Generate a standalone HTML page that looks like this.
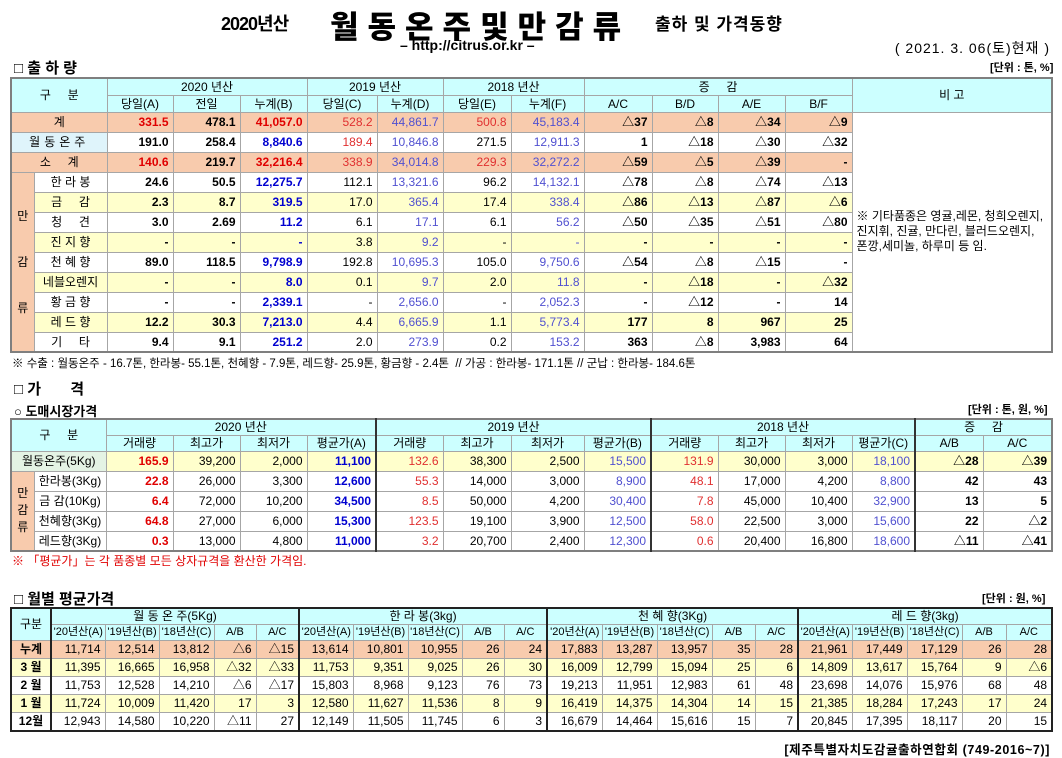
<!DOCTYPE html>
<html><head><meta charset="utf-8"><style>
body{margin:0;width:1062px;height:758px;background:#fff;position:relative;overflow:hidden;font-family:"Liberation Sans","Noto Sans CJK KR",sans-serif;color:#000}
.a{position:absolute;white-space:nowrap}
table{position:absolute;border-collapse:collapse;table-layout:fixed;font-size:12px;border:2px solid #7f7f7f}
td{border:1px solid #a6a6a6;padding:0 4px;white-space:nowrap;overflow:hidden;text-align:right;line-height:14px}
.h td,td.h{background:#ccffff;text-align:center;font-weight:normal}
.s td{background:#f8cbad}
.y td{background:#ffffcc}
.w td{background:#fff}
td.c{text-align:center}
.b{font-weight:bold}
.r{color:#e00000}
.r2{color:#e03030}
.bl{color:#0000d0}
.pu{color:#5050d0}
td.sd{background:#f8cbad !important;text-align:center;border-right:1px dashed #888}
td.lb{text-align:center;padding:0}
.gb{border-left:2px solid #333}
</style></head><body>

<div class="a" style="left:221px;top:10px;font-size:18px;font-weight:bold;letter-spacing:-1px">2020년산</div>
<div class="a" style="left:330px;top:2px;font-size:31px;font-weight:900;letter-spacing:9px">월동온주및만감류</div>
<div class="a" style="left:655px;top:10px;font-size:17px;font-weight:bold;letter-spacing:1px">출하 및 가격동향</div>
<div class="a" style="left:400px;top:37px;font-size:14px;font-weight:bold">– http://citrus.or.kr –</div>
<div class="a" style="right:12px;top:38px;font-size:14px;letter-spacing:1px">( 2021. 3. 06(토)현재 )</div>

<div class="a" style="left:14px;top:57px;font-size:15px;font-weight:bold">□ 출 하 량</div>
<div class="a" style="left:990px;top:59px;font-size:11px;font-weight:bold">[단위 : 톤, %]</div>

<table style="left:10px;top:77px;width:1041px">
<colgroup><col style="width:23px"><col style="width:73px"><col style="width:66px"><col style="width:67px"><col style="width:67px"><col style="width:70px"><col style="width:66px"><col style="width:68px"><col style="width:73px"><col style="width:68px"><col style="width:66px"><col style="width:67px"><col style="width:67px"><col style="width:200px"></colgroup>
<tr class="h" style="height:17px"><td colspan="2" rowspan="2">구 &nbsp; &nbsp; 분</td><td colspan="3">2020 년산</td><td colspan="2">2019 년산</td><td colspan="2">2018 년산</td><td colspan="4">증 &nbsp; &nbsp; 감</td><td rowspan="2">비 고</td></tr>
<tr class="h" style="height:17px"><td>당일(A)</td><td>전일</td><td>누계(B)</td><td>당일(C)</td><td>누계(D)</td><td>당일(E)</td><td>누계(F)</td><td>A/C</td><td>B/D</td><td>A/E</td><td>B/F</td></tr>
<tr class="s" style="height:20px"><td colspan="2" class="c">계</td><td class="b r">331.5</td><td class="b">478.1</td><td class="b r">41,057.0</td><td class="r2">528.2</td><td class="pu">44,861.7</td><td class="r2">500.8</td><td class="pu">45,183.4</td><td class="b">△37</td><td class="b">△8</td><td class="b">△34</td><td class="b">△9</td><td rowspan="12" style="background:#fff;text-align:left;white-space:normal;font-size:12px;line-height:15px;padding:0 4px">※ 기타품종은 영귤,레몬, 청희오렌지, 진지휘, 진귤, 만다린, 블러드오렌지, 폰깡,세미놀, 하루미 등 임.</td></tr>
<tr class="w" style="height:20px"><td colspan="2" class="c" style="background:#dff4fb;letter-spacing:4px">월동온주</td><td class="b">191.0</td><td class="b">258.4</td><td class="b bl">8,840.6</td><td class="r2">189.4</td><td class="pu">10,846.8</td><td>271.5</td><td class="pu">12,911.3</td><td class="b">1</td><td class="b">△18</td><td class="b">△30</td><td class="b">△32</td></tr>
<tr class="s" style="height:20px"><td colspan="2" class="c">소 &nbsp; &nbsp; 계</td><td class="b r">140.6</td><td class="b">219.7</td><td class="b r">32,216.4</td><td class="r2">338.9</td><td class="pu">34,014.8</td><td class="r2">229.3</td><td class="pu">32,272.2</td><td class="b">△59</td><td class="b">△5</td><td class="b">△39</td><td class="b">-</td></tr>
<tr class="w" style="height:20px"><td rowspan="9" class="sd" style="line-height:46px">만<br>감<br>류</td><td class="lb">한 라 봉</td><td class="b">24.6</td><td class="b">50.5</td><td class="b bl">12,275.7</td><td>112.1</td><td class="pu">13,321.6</td><td>96.2</td><td class="pu">14,132.1</td><td class="b">△78</td><td class="b">△8</td><td class="b">△74</td><td class="b">△13</td></tr>
<tr class="y" style="height:20px"><td class="lb">금 &nbsp; &nbsp; 감</td><td class="b">2.3</td><td class="b">8.7</td><td class="b bl">319.5</td><td>17.0</td><td class="pu">365.4</td><td>17.4</td><td class="pu">338.4</td><td class="b">△86</td><td class="b">△13</td><td class="b">△87</td><td class="b">△6</td></tr>
<tr class="w" style="height:20px"><td class="lb">청 &nbsp; &nbsp; 견</td><td class="b">3.0</td><td class="b">2.69</td><td class="b bl">11.2</td><td>6.1</td><td class="pu">17.1</td><td>6.1</td><td class="pu">56.2</td><td class="b">△50</td><td class="b">△35</td><td class="b">△51</td><td class="b">△80</td></tr>
<tr class="y" style="height:20px"><td class="lb">진 지 향</td><td class="b">-</td><td class="b">-</td><td class="b bl">-</td><td>3.8</td><td class="pu">9.2</td><td>-</td><td class="pu">-</td><td class="b">-</td><td class="b">-</td><td class="b">-</td><td class="b">-</td></tr>
<tr class="w" style="height:20px"><td class="lb">천 혜 향</td><td class="b">89.0</td><td class="b">118.5</td><td class="b bl">9,798.9</td><td>192.8</td><td class="pu">10,695.3</td><td>105.0</td><td class="pu">9,750.6</td><td class="b">△54</td><td class="b">△8</td><td class="b">△15</td><td class="b">-</td></tr>
<tr class="y" style="height:20px"><td class="lb">네블오렌지</td><td class="b">-</td><td class="b">-</td><td class="b bl">8.0</td><td>0.1</td><td class="pu">9.7</td><td>2.0</td><td class="pu">11.8</td><td class="b">-</td><td class="b">△18</td><td class="b">-</td><td class="b">△32</td></tr>
<tr class="w" style="height:20px"><td class="lb">황 금 향</td><td class="b">-</td><td class="b">-</td><td class="b bl">2,339.1</td><td>-</td><td class="pu">2,656.0</td><td>-</td><td class="pu">2,052.3</td><td class="b">-</td><td class="b">△12</td><td class="b">-</td><td class="b">14</td></tr>
<tr class="y" style="height:20px"><td class="lb">레 드 향</td><td class="b">12.2</td><td class="b">30.3</td><td class="b bl">7,213.0</td><td>4.4</td><td class="pu">6,665.9</td><td>1.1</td><td class="pu">5,773.4</td><td class="b">177</td><td class="b">8</td><td class="b">967</td><td class="b">25</td></tr>
<tr class="w" style="height:20px"><td class="lb">기 &nbsp; &nbsp; 타</td><td class="b">9.4</td><td class="b">9.1</td><td class="b bl">251.2</td><td>2.0</td><td class="pu">273.9</td><td>0.2</td><td class="pu">153.2</td><td class="b">363</td><td class="b">△8</td><td class="b">3,983</td><td class="b">64</td></tr>
</table>

<div class="a" style="left:12px;top:355px;font-size:11.5px">※ 수출 : 월동온주 - 16.7톤, 한라봉- 55.1톤, 천혜향 - 7.9톤, 레드향- 25.9톤, 황금향 - 2.4톤 &nbsp;// 가공 : 한라봉- 171.1톤 // 군납 : 한라봉- 184.6톤</div>

<div class="a" style="left:14px;top:378px;font-size:15px;font-weight:bold">□ 가 &nbsp; &nbsp; &nbsp; 격</div>
<div class="a" style="left:14px;top:401px;font-size:13px;font-weight:bold">○ 도매시장가격</div>
<div class="a" style="left:968px;top:401px;font-size:11px;font-weight:bold">[단위 : 톤, 원, %]</div>

<table style="left:10px;top:418px;width:1041px">
<colgroup><col style="width:23px"><col style="width:72px"><col style="width:67px"><col style="width:67px"><col style="width:67px"><col style="width:69px"><col style="width:67px"><col style="width:68px"><col style="width:73px"><col style="width:67px"><col style="width:67px"><col style="width:67px"><col style="width:67px"><col style="width:63px"><col style="width:68px"><col style="width:69px"></colgroup>
<tr class="h" style="height:16px"><td colspan="2" rowspan="2">구 &nbsp; &nbsp; 분</td><td colspan="4">2020 년산</td><td colspan="4" class="gb">2019 년산</td><td colspan="4" class="gb">2018 년산</td><td colspan="2" class="gb">증 &nbsp; &nbsp; 감</td></tr>
<tr class="h" style="height:16px"><td>거래량</td><td>최고가</td><td>최저가</td><td>평균가(A)</td><td class="gb">거래량</td><td>최고가</td><td>최저가</td><td>평균가(B)</td><td class="gb">거래량</td><td>최고가</td><td>최저가</td><td>평균가(C)</td><td class="gb">A/B</td><td>A/C</td></tr>
<tr class="y" style="height:20px"><td colspan="2" class="c" style="background:#e4f3e4">월동온주(5Kg)</td><td class="b r">165.9</td><td>39,200</td><td>2,000</td><td class="b bl">11,100</td><td class="r2 gb">132.6</td><td>38,300</td><td>2,500</td><td class="pu">15,500</td><td class="r2 gb">131.9</td><td>30,000</td><td>3,000</td><td class="pu">18,100</td><td class="b gb">△28</td><td class="b">△39</td></tr>
<tr class="w" style="height:20px"><td rowspan="4" class="sd" style="line-height:17px">만<br>감<br>류</td><td class="lb">한라봉(3Kg)</td><td class="b r">22.8</td><td>26,000</td><td>3,300</td><td class="b bl">12,600</td><td class="r2 gb">55.3</td><td>14,000</td><td>3,000</td><td class="pu">8,900</td><td class="r2 gb">48.1</td><td>17,000</td><td>4,200</td><td class="pu">8,800</td><td class="b gb">42</td><td class="b">43</td></tr>
<tr class="w" style="height:20px"><td class="lb">금 감(10Kg)</td><td class="b r">6.4</td><td>72,000</td><td>10,200</td><td class="b bl">34,500</td><td class="r2 gb">8.5</td><td>50,000</td><td>4,200</td><td class="pu">30,400</td><td class="r2 gb">7.8</td><td>45,000</td><td>10,400</td><td class="pu">32,900</td><td class="b gb">13</td><td class="b">5</td></tr>
<tr class="w" style="height:20px"><td class="lb">천혜향(3Kg)</td><td class="b r">64.8</td><td>27,000</td><td>6,000</td><td class="b bl">15,300</td><td class="r2 gb">123.5</td><td>19,100</td><td>3,900</td><td class="pu">12,500</td><td class="r2 gb">58.0</td><td>22,500</td><td>3,000</td><td class="pu">15,600</td><td class="b gb">22</td><td class="b">△2</td></tr>
<tr class="w" style="height:20px"><td class="lb">레드향(3Kg)</td><td class="b r">0.3</td><td>13,000</td><td>4,800</td><td class="b bl">11,000</td><td class="r2 gb">3.2</td><td>20,700</td><td>2,400</td><td class="pu">12,300</td><td class="r2 gb">0.6</td><td>20,400</td><td>16,800</td><td class="pu">18,600</td><td class="b gb">△11</td><td class="b">△41</td></tr>
</table>
<div class="a" style="left:12px;top:552px;font-size:12px;color:#e00000">※ 「평균가」는 각 품종별 모든 상자규격을 환산한 가격임.</div>

<div class="a" style="left:14px;top:588px;font-size:15px;font-weight:bold">□ 월별 평균가격</div>
<div class="a" style="left:982px;top:590px;font-size:11px;font-weight:bold">[단위 : 원, %]</div>

<table style="left:10px;top:607px;width:1041px;border:2px solid #222;font-size:12px">
<colgroup><col style="width:40px">
<col style="width:54px"><col style="width:54px"><col style="width:55px"><col style="width:42px"><col style="width:43px">
<col style="width:54px"><col style="width:55px"><col style="width:54px"><col style="width:42px"><col style="width:43px">
<col style="width:55px"><col style="width:55px"><col style="width:55px"><col style="width:43px"><col style="width:43px">
<col style="width:54px"><col style="width:55px"><col style="width:55px"><col style="width:44px"><col style="width:46px"></colgroup>
<tr class="h" style="height:16px;font-weight:bold"><td rowspan="2" class="b" style="border-right:2px solid #222">구분</td><td colspan="5" class="b" style="border-right:2px solid #222">월 동 온 주(5Kg)</td><td colspan="5" class="b" style="border-right:2px solid #222">한 라 봉(3kg)</td><td colspan="5" class="b" style="border-right:2px solid #222">천 혜 향(3Kg)</td><td colspan="5" class="b">레 드 향(3kg)</td></tr>
<tr class="h" style="height:16px;font-size:11px"><td style="padding:0">'20년산(A)</td><td style="padding:0">'19년산(B)</td><td style="padding:0">'18년산(C)</td><td class="b">A/B</td><td class="b" style="border-right:2px solid #222">A/C</td><td style="padding:0">'20년산(A)</td><td style="padding:0">'19년산(B)</td><td style="padding:0">'18년산(C)</td><td class="b">A/B</td><td class="b" style="border-right:2px solid #222">A/C</td><td style="padding:0">'20년산(A)</td><td style="padding:0">'19년산(B)</td><td style="padding:0">'18년산(C)</td><td class="b">A/B</td><td class="b" style="border-right:2px solid #222">A/C</td><td style="padding:0">'20년산(A)</td><td style="padding:0">'19년산(B)</td><td style="padding:0">'18년산(C)</td><td class="b">A/B</td><td class="b">A/C</td></tr>
<tr class="s" style="height:18px"><td class="c b" style="border-right:2px solid #222">누계</td><td>11,714</td><td>12,514</td><td>13,812</td><td>△6</td><td style="border-right:2px solid #222">△15</td><td>13,614</td><td>10,801</td><td>10,955</td><td>26</td><td style="border-right:2px solid #222">24</td><td>17,883</td><td>13,287</td><td>13,957</td><td>35</td><td style="border-right:2px solid #222">28</td><td>21,961</td><td>17,449</td><td>17,129</td><td>26</td><td>28</td></tr>
<tr class="y" style="height:18px"><td class="c b" style="border-right:2px solid #222">3 월</td><td>11,395</td><td>16,665</td><td>16,958</td><td>△32</td><td style="border-right:2px solid #222">△33</td><td>11,753</td><td>9,351</td><td>9,025</td><td>26</td><td style="border-right:2px solid #222">30</td><td>16,009</td><td>12,799</td><td>15,094</td><td>25</td><td style="border-right:2px solid #222">6</td><td>14,809</td><td>13,617</td><td>15,764</td><td>9</td><td>△6</td></tr>
<tr class="w" style="height:18px"><td class="c b" style="border-right:2px solid #222">2 월</td><td>11,753</td><td>12,528</td><td>14,210</td><td>△6</td><td style="border-right:2px solid #222">△17</td><td>15,803</td><td>8,968</td><td>9,123</td><td>76</td><td style="border-right:2px solid #222">73</td><td>19,213</td><td>11,951</td><td>12,983</td><td>61</td><td style="border-right:2px solid #222">48</td><td>23,698</td><td>14,076</td><td>15,976</td><td>68</td><td>48</td></tr>
<tr class="y" style="height:18px"><td class="c b" style="border-right:2px solid #222">1 월</td><td>11,724</td><td>10,009</td><td>11,420</td><td>17</td><td style="border-right:2px solid #222">3</td><td>12,580</td><td>11,627</td><td>11,536</td><td>8</td><td style="border-right:2px solid #222">9</td><td>16,419</td><td>14,375</td><td>14,304</td><td>14</td><td style="border-right:2px solid #222">15</td><td>21,385</td><td>18,284</td><td>17,243</td><td>17</td><td>24</td></tr>
<tr class="w" style="height:19px"><td class="c b" style="border-right:2px solid #222">12월</td><td>12,943</td><td>14,580</td><td>10,220</td><td>△11</td><td style="border-right:2px solid #222">27</td><td>12,149</td><td>11,505</td><td>11,745</td><td>6</td><td style="border-right:2px solid #222">3</td><td>16,679</td><td>14,464</td><td>15,616</td><td>15</td><td style="border-right:2px solid #222">7</td><td>20,845</td><td>17,395</td><td>18,117</td><td>20</td><td>15</td></tr>
</table>

<div class="a" style="right:12px;top:739px;font-size:12.5px;font-weight:bold;letter-spacing:0.6px">[제주특별자치도감귤출하연합회 (749-2016~7)]</div>
</body></html>
